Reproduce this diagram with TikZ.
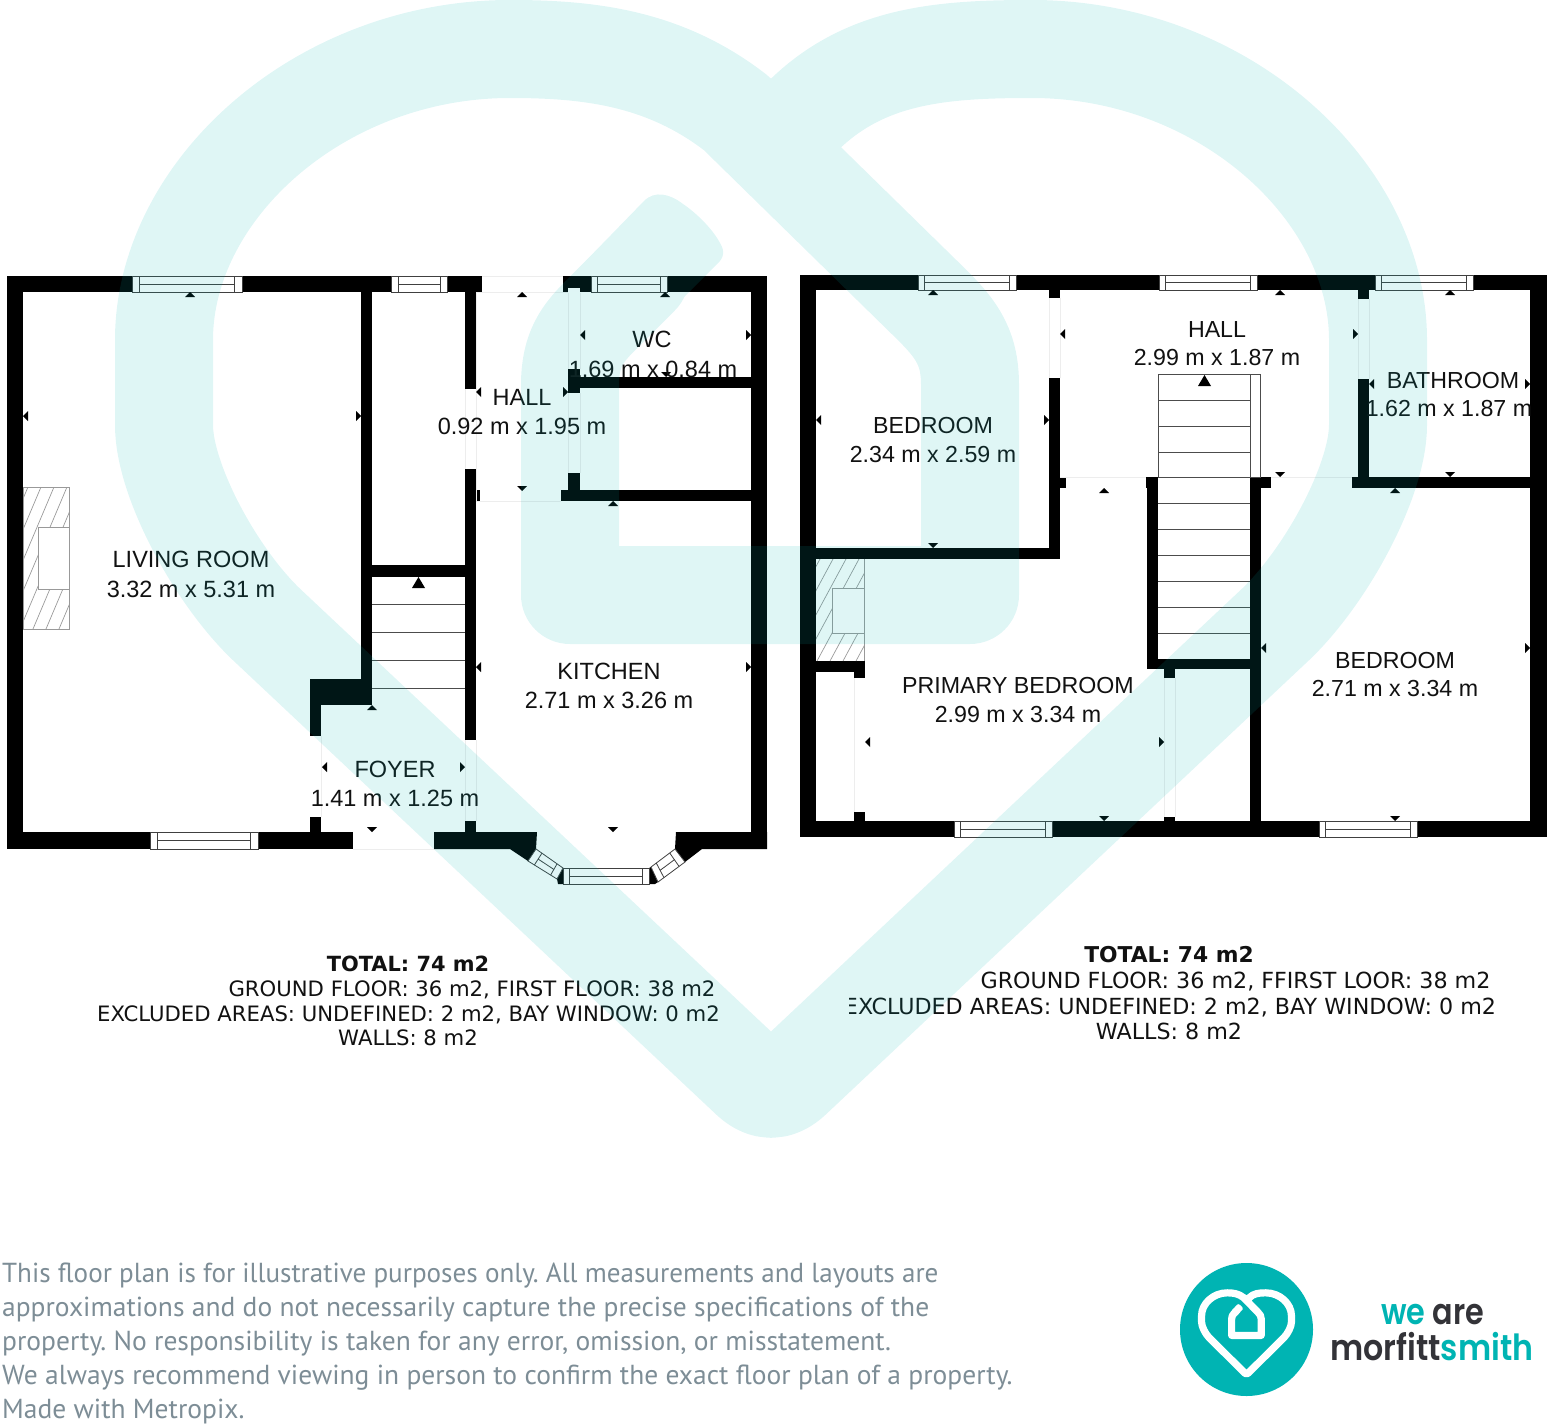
\documentclass[tikz,border=0pt]{standalone}
\usepackage{fontspec}
\usetikzlibrary{calc}
\setmainfont{Liberation Sans}
\newfontfamily\totfont{DejaVu Sans}
\newfontfamily\discfont{PT Sans}
\newfontfamily\logofont{Poppins SemiBold}
\definecolor{wmteal}{HTML}{00B4B3}
\definecolor{labelink}{HTML}{111111}
\definecolor{discgrey}{HTML}{7D8D96}
\definecolor{logodark}{HTML}{333338}
\tikzset{
  wall/.style={fill=black,draw=none},
  winline/.style={draw=black!75,line width=0.8pt},
  faint/.style={draw=black!7,line width=0.7pt},
  stairline/.style={draw=black!70,line width=1pt},
  hatchline/.style={draw=black!40,line width=0.7pt},
  tipmark/.style={fill=black,draw=none},
  roomtext/.style={anchor=base,text=labelink,font=\fontsize{23.5}{28}\selectfont,inner sep=0pt},
  roomtextb/.style={anchor=base,text=labelink,font=\fontsize{23.2}{28}\selectfont,inner sep=0pt},
  tottext/.style={anchor=base,text=labelink,inner sep=0pt},
  disc/.style={anchor=base west,text=discgrey,font=\discfont\frenchspacing\fontsize{27.5}{32}\selectfont,inner sep=0pt},
  logotext/.style={anchor=base west,inner sep=0pt},
}
\newcommand{\quadwin}[5]{%
  \coordinate (qa) at (#1);\coordinate (qb) at (#2);\coordinate (qc) at (#3);\coordinate (qd) at (#4);
  \coordinate (qe) at ($(qa)!.5!(qd)$);\coordinate (qf) at ($(qb)!.5!(qc)$);
  \filldraw[winline,fill=white] (qa)--(qb)--(qc)--(qd)--cycle;
  \draw[winline] ($(qa)!#5!(qb)$) -- ($(qd)!#5!(qc)$);
  \draw[winline] ($(qb)!#5!(qa)$) -- ($(qc)!#5!(qd)$);
  \draw[winline] ($(qe)!#5!(qf)$) -- ($(qf)!#5!(qe)$);
}
\newcommand{\hwin}[5]{\quadwin{#1,#3}{#2,#3}{#2,#4}{#1,#4}{#5}}
\newcommand{\wallrect}[4]{\fill[wall] (#1,#2) rectangle (#3,#4);}
\newcommand{\tU}[2]{\fill[tipmark] (#1,#2)--(#1-5,#2+5)--(#1+5,#2+5)--cycle;}
\newcommand{\tD}[2]{\fill[tipmark] (#1,#2)--(#1-5,#2-5)--(#1+5,#2-5)--cycle;}
\newcommand{\tL}[2]{\fill[tipmark] (#1,#2)--(#1+5,#2-5)--(#1+5,#2+5)--cycle;}
\newcommand{\tR}[2]{\fill[tipmark] (#1,#2)--(#1-5,#2-5)--(#1-5,#2+5)--cycle;}
\newcommand{\HeartPath}{
  (775,143) -- (806,113) .. controls (867,55) and (942,49) .. (1032,49)
  .. controls (1222,49) and (1378,190) .. (1378,340) -- (1378,425)
  .. controls (1378,480) and (1327,575) .. (1276,624) -- (792,1079)
  .. controls (778,1092) and (764,1092) .. (750,1079) -- (266,624)
  .. controls (215,575) and (164,480) .. (164,425) -- (164,340)
  .. controls (164,190) and (320,49) .. (510,49)
  .. controls (590,49) and (665,58) .. (736,113) -- (925,298)
  .. controls (955,327) and (970,345) .. (970,385) -- (970,595) -- (570,595) -- (570,385)
  .. controls (570,350) and (582,334) .. (600,316) -- (640,276)
}
\newcommand{\HeartTip}{
  (577,270) -- (644,201) .. controls (655,190) and (670,194) .. (683,204)
  .. controls (695,212) and (712,228) .. (720,243)
  .. controls (725,251) and (724,258) .. (717,264)
  -- (640,341) -- (600,310) -- cycle
}
\begin{document}
\begin{tikzpicture}[x=1pt,y=-1pt]
\useasboundingbox (0,0) rectangle (1549,1426);
\clip (0,0) rectangle (1549,1426);

% ---------- ground floor walls
\wallrect{7}{276}{482}{292}
\wallrect{563}{276}{767}{292}
\wallrect{7}{276}{23}{849}
\wallrect{751}{276}{767}{849}
\wallrect{7}{832}{353}{849}
\wallrect{361}{292}{372}{705}
\wallrect{372}{565}{465}{577}
\wallrect{465}{292}{476}{389}
\wallrect{465}{469}{476}{740}
\wallrect{476}{490}{480}{501}
\wallrect{310}{679}{372}{705}
\wallrect{310}{705}{321}{736}
\wallrect{310}{817}{321}{832}
\wallrect{465}{821}{476}{832}
\wallrect{568}{369}{580}{393}
\wallrect{580}{377}{751}{388}
\wallrect{568}{473}{580}{490}
\wallrect{561}{490}{751}{501}
\fill[white] (568,288) rectangle (580,292);
\fill[wall] (434,832)--(537,832)--(536,849)--(528,861)--(510,849)--(434,849)--cycle;
\fill[wall] (676,832)--(767,832)--(767,849)--(702,849)--(685,862)--(675,849)--cycle;
\fill[wall] (563,868)--(563,884)--(558,884)--(557,879)--cycle;
\fill[wall] (649,868)--(651,867)--(658,882)--(655,884)--(649,884)--cycle;
% faint door outlines, ground floor
\draw[faint] (482,276)--(563,276) (476,292)--(568,292) (476,501)--(561,501);
\draw[faint] (465,389)--(465,469) (476,292)--(476,501);
\draw[faint] (568,293)--(568,369) (580,293)--(580,369) (568,393)--(568,473) (580,393)--(580,473);
\draw[faint] (321,736)--(321,817) (465,740)--(465,821) (476,740)--(476,821) (353,849)--(434,849);
% ground floor windows
\hwin{132}{242}{276}{292}{.07}
\hwin{391}{447}{276}{292}{.125}
\hwin{591}{667}{276}{292}{.09}
\hwin{150}{258}{832}{849}{.07}
\hwin{563}{649}{868}{884}{.08}
\quadwin{536,849}{563,868}{557,879}{528,861}{.22}
\quadwin{651,867}{675,849}{685,862}{658,882}{.22}
% ground floor stairs
\draw[stairline] (372,604)--(465,604) (372,632)--(465,632) (372,660)--(465,660) (372,688)--(465,688);
\fill[tipmark] (418.5,577)--(412,588)--(425,588)--cycle;
% ground floor fireplace
\begin{scope}
  \clip (23,487) rectangle (69,629);
  \foreach \k in {0,...,12} {\draw[hatchline] (-45+13*\k,629)--(-45+13*\k+60,487);}
\end{scope}
\draw[hatchline] (23,487) rectangle (69,629);
\filldraw[hatchline,fill=white] (38,527) rectangle (69,589);
% ground floor dimension tips
\tU{190}{292}\tL{23}{416}\tR{361}{416}
\tU{522}{292}\tD{522}{491}\tL{476}{392}\tR{568}{392}
\tU{665}{292}\tD{666}{377}\tL{580}{335}\tR{751}{335}
\tU{613}{501}\tL{476}{667}\tR{751}{667}\tD{613}{832}
\tU{372}{705}\tD{372}{832}\tL{322}{767}\tR{465}{767}

% ---------- first floor walls
\wallrect{800}{275}{1547}{290}
\wallrect{800}{275}{816}{837}
\wallrect{1530}{275}{1547}{837}
\wallrect{800}{821}{1547}{837}
\wallrect{1049}{290}{1060}{298}
\wallrect{1049}{378}{1060}{559}
\wallrect{816}{548}{1060}{559}
\wallrect{1060}{477}{1066}{488}
\wallrect{1147}{477}{1158}{669}
\wallrect{1146}{477}{1158}{488}
\wallrect{1250}{477}{1261}{821}
\wallrect{1250}{477}{1271}{488}
\wallrect{1147}{659}{1261}{669}
\wallrect{1164}{669}{1175}{678}
\wallrect{1164}{817}{1175}{821}
\wallrect{1358}{290}{1369}{299}
\wallrect{1358}{379}{1369}{488}
\wallrect{1352}{477}{1530}{488}
\wallrect{816}{661}{865}{672}
\wallrect{854}{672}{865}{678}
\wallrect{854}{812}{865}{821}
% faint door outlines, first floor
\draw[faint] (1049,298)--(1049,378) (1060,298)--(1060,378) (1060,477)--(1146,477) (1271,477)--(1352,477);
\draw[faint] (1358,299)--(1358,379) (1369,299)--(1369,379);
\draw[faint] (854,678)--(854,812) (1164,678)--(1164,817) (1175,678)--(1175,817);
% first floor windows
\hwin{918}{1016}{275}{290}{.07}
\hwin{1159}{1257}{275}{290}{.07}
\hwin{1375}{1473}{275}{290}{.07}
\hwin{954}{1052}{821}{837}{.07}
\hwin{1319}{1417}{821}{837}{.07}
% first floor stairs
\draw[stairline] (1158,374) rectangle (1260,477);
\draw[stairline] (1250,374)--(1250,477);
\foreach \yy in {400,426,452,477,503,529,555,581,607,633} {\draw[stairline] (1158,\yy)--(1250,\yy);}
\fill[tipmark] (1204.5,375)--(1198,386)--(1211,386)--cycle;
% first floor fireplace
\begin{scope}
  \clip (816,559) rectangle (864,661);
  \foreach \k in {0,...,11} {\draw[hatchline] (765+13*\k,661)--(765+13*\k+55,559);}
\end{scope}
\draw[hatchline] (864,559)--(864,661);
\filldraw[hatchline,fill=white] (832,588) rectangle (864,633);
% first floor dimension tips
\tU{933}{290}\tL{816}{420}\tR{1049}{420}\tD{933}{548}
\tL{1060}{334}\tU{1280}{290}\tR{1358}{334}\tD{1280}{477}\tU{1104}{488}
\tU{1450}{290}\tL{1369}{384}\tR{1530}{384}\tD{1450}{477}
\tU{1395}{488}\tL{1261}{648}\tR{1530}{648}\tD{1395}{821}
\tL{865}{742}\tR{1164}{742}\tD{1104}{821}

% ---------- room labels
\node[roomtext] (livingA) at (191,567) {LIVING ROOM};
\node[roomtext] (livingB) at (191,597) {3.32 m x 5.31 m};
\node[roomtext] (hallA) at (522,405) {HALL};
\node[roomtext] (hallB) at (522,434) {0.92 m x 1.95 m};
\node[roomtext] (wcA) at (652,347) {WC};
\node[roomtext] (wcB) at (653,377) {1.69 m x 0.84 m};
\node[roomtext] (kitA) at (609,679) {KITCHEN};
\node[roomtext] (kitB) at (609,708) {2.71 m x 3.26 m};
\node[roomtext] (foyA) at (395,777) {FOYER};
\node[roomtext] (foyB) at (395,806) {1.41 m x 1.25 m};
\node[roomtextb] (bedA) at (933,433) {BEDROOM};
\node[roomtextb] (bedB) at (933,462) {2.34 m x 2.59 m};
\node[roomtextb] (hall2A) at (1217,337) {HALL};
\node[roomtextb] (hall2B) at (1217,365) {2.99 m x 1.87 m};
\node[roomtextb] (bathA) at (1453,388) {BATHROOM};
\node[roomtextb] (bathB) at (1449,416) {1.62 m x 1.87 m};
\node[roomtextb] (bed2A) at (1395,668) {BEDROOM};
\node[roomtextb] (bed2B) at (1395,696) {2.71 m x 3.34 m};
\node[roomtextb] (primA) at (1018,693) {PRIMARY BEDROOM};
\node[roomtextb] (primB) at (1018,722) {2.99 m x 3.34 m};

% ---------- totals
\node[tottext,font=\totfont\bfseries\fontsize{20.9}{24}\selectfont] (totL1) at (408,971) {TOTAL: 74 m2};
\node[tottext,font=\totfont\fontsize{21.2}{24}\selectfont] (totL2) at (472,996) {GROUND FLOOR: 36 m2, FIRST FLOOR: 38 m2};
\node[tottext,font=\totfont\fontsize{21.2}{24}\selectfont] (totL3) at (408.5,1021) {EXCLUDED AREAS: UNDEFINED: 2 m2, BAY WINDOW: 0 m2};
\node[tottext,font=\totfont\fontsize{21.2}{24}\selectfont] (totL4) at (408,1045) {WALLS: 8 m2};
\node[tottext,font=\totfont\bfseries\fontsize{21.8}{24}\selectfont] (totR1) at (1169,962) {TOTAL: 74 m2};
\node[tottext,font=\totfont\fontsize{22.2}{24}\selectfont] (totR2) at (1235.5,988) {GROUND FLOOR: 36 m2, FFIRST LOOR: 38 m2};
\begin{scope}
  \clip (849,990) rectangle (1549,1025);
  \node[tottext,font=\totfont\fontsize{22.2}{24}\selectfont] (totR3) at (1170,1014) {EXCLUDED AREAS: UNDEFINED: 2 m2, BAY WINDOW: 0 m2};
\end{scope}
\node[tottext,font=\totfont\fontsize{22.2}{24}\selectfont] (totR4) at (1169,1039) {WALLS: 8 m2};

% ---------- disclaimer
\node[disc] (d1) at (2,1282) {\scalebox{.985}[1]{This floor plan is for illustrative purposes only. All measurements and layouts are}};
\node[disc] (d2) at (2,1316) {approximations and do not necessarily capture the precise specifications of the};
\node[disc] (d3) at (2,1350) {property. No responsibility is taken for any error, omission, or misstatement.};
\node[disc] (d4) at (2,1384) {We always recommend viewing in person to confirm the exact floor plan of a property.};
\node[disc] (d5) at (2,1418) {Made with Metropix.};

% ---------- logo
\fill[wmteal] (1246.5,1329.5) circle[radius=66.5];
\begin{scope}[shift={(1246.5-771*0.074,1289)},x=0.074pt,y=-0.078pt]
  \draw[white,line width=7.2pt,line join=round,line cap=round] \HeartPath;
  \fill[white] \HeartTip;
\end{scope}
\node[logotext,font=\logofont\fontsize{36}{38}\selectfont] (logoA) at (1381,1324) {\scalebox{.84}[1]{\textcolor{wmteal}{we} \textcolor{logodark}{are}}};
\node[logotext,font=\logofont\fontsize{36}{38}\selectfont] (logoB) at (1330,1360) {\scalebox{.88}[1]{\textcolor{logodark}{morfitt}\textcolor{wmteal}{smith}}};

% ---------- watermark over everything in the plan
\begin{scope}[transparency group,opacity=.125]
  \path (0,0) rectangle (1549,1426);
  \draw[draw=wmteal,line width=98pt,line join=round,line cap=round] \HeartPath;
  \fill[wmteal] \HeartTip;
\end{scope}
\end{tikzpicture}
\end{document}
